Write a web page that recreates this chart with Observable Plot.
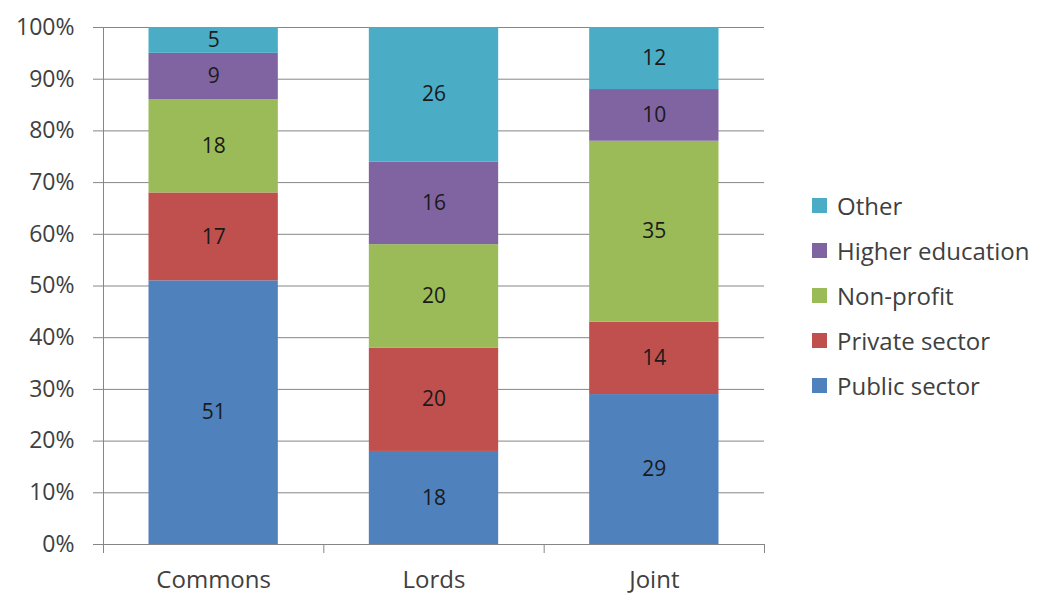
<!DOCTYPE html>
<html>
<head>
<meta charset="utf-8">
<script src="https://cdn.jsdelivr.net/npm/d3@7"></script>
<script src="https://cdn.jsdelivr.net/npm/@observablehq/plot@0.6"></script>
<style>
  html, body { margin: 0; padding: 0; background: #fff; }
  #wrap { position: relative; width: 1062px; height: 594px; font-family: "Open Sans", sans-serif; }
  #legend { position: absolute; left: 812px; top: 183px; }
  .row { height: 45px; display: flex; align-items: center; font-size: 24px; color: #404040; }
  .sw { width: 15px; height: 15px; margin-right: 10px; flex: none; }
</style>
</head>
<body>
<div id="wrap"><div id="legend"></div></div>
<script>
const categories = ["Commons", "Lords", "Joint"];
const sectors = ["Public sector", "Private sector", "Non-profit", "Higher education", "Other"];
const colors = ["#4F81BD", "#C0504D", "#9BBB59", "#8064A2", "#4BACC6"];
const publicSector = [51, 18, 29];
const privateSector = [17, 20, 14];
const nonProfit = [18, 20, 35];
const higherEducation = [9, 16, 10];
const other = [5, 26, 12];
const yTicks = [0, 10, 20, 30, 40, 50, 60, 70, 80, 90, 100];

const series = [publicSector, privateSector, nonProfit, higherEducation, other];
const data = sectors.flatMap((s, si) => categories.map((c, ci) => ({category: c, sector: s, value: series[si][ci]})));
const idx = d => categories.indexOf(d.category);
const boundaries = d3.range(categories.length + 1);
const centers = categories.map((c, i) => i + 0.5);

const gray = "#868686";
const chart = Plot.plot({
  width: 1062,
  height: 594,
  marginLeft: 103,
  marginRight: 298,
  marginTop: 27,
  marginBottom: 50,
  style: {fontFamily: "Open Sans, sans-serif", background: "#fff"},
  x: {domain: [0, categories.length], axis: null},
  y: {domain: [0, 100], axis: null},
  color: {domain: sectors, range: colors},
  marks: [
    Plot.gridY(yTicks, {stroke: gray, strokeOpacity: 1, strokeWidth: 1}),
    Plot.axisY(yTicks, {label: null, tickSize: 10, tickPadding: 19, tickFormat: d => d + "%", fontSize: 23, stroke: gray, fill: "#404040", color: "#404040"}),
    Plot.ruleX([0], {stroke: gray}),
    Plot.rectY(data, Plot.stackY({x1: d => idx(d), x2: d => idx(d) + 1, y: "value", fill: "sector", insetLeft: 45.5, insetRight: 45.5})),
    Plot.text(data, Plot.stackY({x: d => idx(d) + 0.5, y: "value", text: d => String(d.value), fontSize: 21, fill: "#1a1a1a"})),
    Plot.ruleY([0], {stroke: gray}),
    Plot.axisX(boundaries, {label: null, tickSize: 9, tickFormat: () => "", stroke: gray}),
    Plot.axisX(centers, {label: null, tickSize: 0, tickPadding: 26, tickFormat: d => categories[Math.floor(d)], fontSize: 24, fill: "#404040", color: "#404040"})
  ]
});
const wrap = document.getElementById("wrap");
wrap.insertBefore(chart, wrap.firstChild);

const legend = document.getElementById("legend");
sectors.slice().reverse().forEach(s => {
  const row = document.createElement("div");
  row.className = "row";
  const sw = document.createElement("span");
  sw.className = "sw";
  sw.style.background = colors[sectors.indexOf(s)];
  const t = document.createElement("span");
  t.textContent = s;
  row.appendChild(sw);
  row.appendChild(t);
  legend.appendChild(row);
});
</script>
</body>
</html>
